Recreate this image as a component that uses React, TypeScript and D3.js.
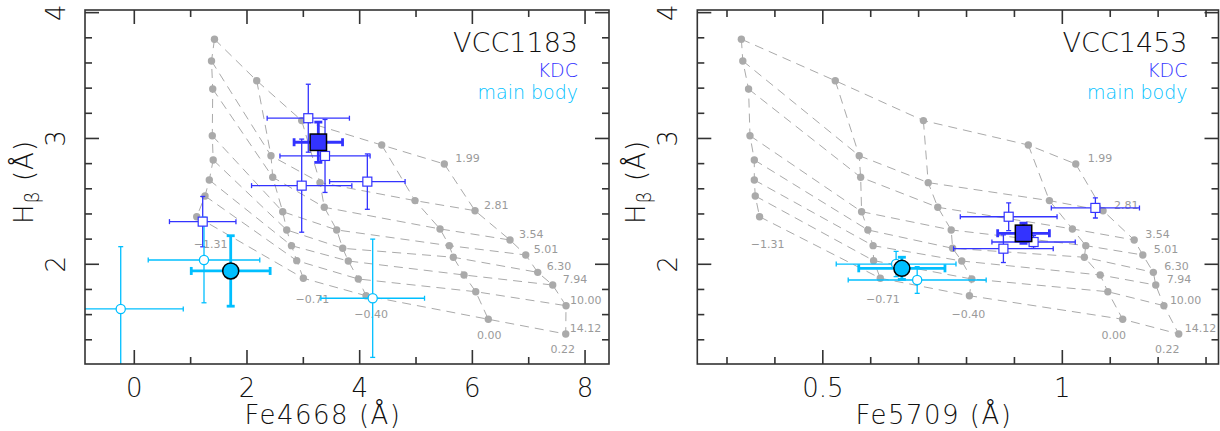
import React from "react";
import * as d3 from "d3";

// ---------- model grid ----------
const metallicityLabels = ["−1.31", "−0.71", "−0.40", "0.00", "0.22"];
const ageLabels = ["1.99", "2.81", "3.54", "5.01", "6.30", "7.94", "10.00", "14.12"];

// Hβ of the model grid: one row per metallicity, one value per age
const hbetaGrid = [
  [3.789, 3.616, 3.393, 3.022, 2.829, 2.67, 2.543, 2.378],
  [3.459, 2.863, 2.692, 2.418, 2.273, 2.148, 2.029, 1.889],
  [3.142, 2.649, 2.453, 2.273, 2.127, 2.026, 1.883, 1.75],
  [2.948, 2.506, 2.281, 2.148, 2.056, 1.915, 1.782, 1.563],
  [2.797, 2.426, 2.193, 2.074, 1.936, 1.835, 1.671, 1.446],
];
const fe4668Grid = [
  [1.423, 1.37, 1.392, 1.384, 1.4, 1.331, 1.255, 1.108],
  [2.173, 2.426, 2.457, 2.634, 2.705, 2.79, 2.883, 3.0],
  [2.971, 3.296, 3.372, 3.592, 3.699, 3.798, 3.976, 4.113],
  [4.391, 4.982, 5.426, 5.591, 5.662, 5.852, 6.06, 6.283],
  [5.502, 6.047, 6.668, 6.947, 7.16, 7.426, 7.662, 7.657],
];
const fe5709Grid = [
  [0.33, 0.333, 0.345, 0.348, 0.357, 0.357, 0.359, 0.368],
  [0.526, 0.576, 0.579, 0.581, 0.594, 0.605, 0.606, 0.62],
  [0.71, 0.72, 0.74, 0.768, 0.771, 0.79, 0.811, 0.806],
  [0.929, 0.973, 1.021, 1.049, 1.046, 1.079, 1.095, 1.126],
  [1.028, 1.085, 1.15, 1.168, 1.19, 1.195, 1.212, 1.243],
];

// ---------- observations ----------
// VCC1183
const v1183KdcX = [3.088, 3.385, 2.971, 4.136, 1.214];
const v1183KdcXe = [0.73, 0.8, 0.89, 0.67, 0.59];
const v1183KdcY = [3.161, 2.861, 2.625, 2.657, 2.339];
const v1183KdcYe = [0.27, 0.29, 0.37, 0.22, 0.2];
const v1183KdcMean = [3.266, 0.43, 2.97, 0.16]; // x, xe, y, ye
const v1183MainX = [1.237, -0.241, 4.231];
const v1183MainXe = [0.99, 1.11, 0.92];
const v1183MainY = [2.034, 1.645, 1.73];
const v1183MainYe = [0.34, 0.495, 0.47];
const v1183MainMean = [1.711, 0.7, 1.947, 0.28];

// VCC1453
const v1453KdcX = [0.888, 1.069, 0.877, 0.94];
const v1453KdcXe = [0.101, 0.092, 0.104, 0.087];
const v1453KdcY = [2.378, 2.448, 2.124, 2.177];
const v1453KdcYe = [0.11, 0.08, 0.11, 0.05];
const v1453KdcMean = [0.919, 0.054, 2.246, 0.08];
const v1453MainX = [0.653, 0.697];
const v1453MainXe = [0.125, 0.144];
const v1453MainY = [2.002, 1.875];
const v1453MainYe = [0.1, 0.106];
const v1453MainMean = [0.665, 0.09, 1.968, 0.088];

const yTitle = "Å";
const KDC = "#3333ff";
const MAIN = "#00bfff";
const GRID = "#aaaaaa";
const FONT = "'DejaVu Sans', sans-serif";

const panels = [
  {
    id: "p1",
    name: "VCC1183",
    xTitle: "Fe4668 (Å)",
    xGrid: fe4668Grid,
    xDomain: [-0.875, 8.425],
    xStep: 1,
    xMajor: [0, 2, 4, 6, 8],
    left: 85,
    right: 609,
    ageDx: [11, 9, 9, 8, 9, 10, 4, 4],
    metDx: [14, 9, 5, 1, -3],
    kdc: { x: v1183KdcX, xe: v1183KdcXe, y: v1183KdcY, ye: v1183KdcYe, mean: v1183KdcMean },
    main: { x: v1183MainX, xe: v1183MainXe, y: v1183MainY, ye: v1183MainYe, mean: v1183MainMean },
  },
  {
    id: "p2",
    name: "VCC1453",
    xTitle: "Fe5709 (Å)",
    xGrid: fe5709Grid,
    xDomain: [0.238, 1.326],
    xStep: 0.1,
    xMajor: [0.5, 1],
    left: 697.3,
    right: 1218.5,
    ageDx: [12, 11, 11, 11, 11, 11, 6, 6],
    metDx: [8, 2.5, -1, -9, -11.5],
    kdc: { x: v1453KdcX, xe: v1453KdcXe, y: v1453KdcY, ye: v1453KdcYe, mean: v1453KdcMean },
    main: { x: v1453MainX, xe: v1453MainXe, y: v1453MainY, ye: v1453MainYe, mean: v1453MainMean },
  },
];

const TOP = 10;
const BOTTOM = 364;
const yDomain = [1.2075, 4.021];
const yStep = 0.2;
const yMajor = [2, 3, 4];
const metDy = [27, 21, 18, 16, 15];

function tickValues(domain: number[], step: number) {
  const i0 = Math.ceil(domain[0] / step - 1e-9);
  const i1 = Math.floor(domain[1] / step + 1e-9);
  return d3.range(i0, i1 + 1).map((i) => +(i * step).toFixed(6));
}
const isMajor = (v: number, list: number[]) => list.some((m) => Math.abs(m - v) < 1e-6);

function ErrBar({ x, y, ex, ey, xs, ys, color, w, cap }: any) {
  const cx = xs(x), cy = ys(y);
  const x0 = xs(x - ex), x1 = xs(x + ex), y0 = ys(y - ey), y1 = ys(y + ey);
  return (
    <g stroke={color} strokeWidth={w} fill="none">
      <line x1={x0} x2={x1} y1={cy} y2={cy} />
      <line x1={cx} x2={cx} y1={y0} y2={y1} />
      <line x1={x0} x2={x0} y1={cy - cap} y2={cy + cap} />
      <line x1={x1} x2={x1} y1={cy - cap} y2={cy + cap} />
      <line x1={cx - cap} x2={cx + cap} y1={y0} y2={y0} />
      <line x1={cx - cap} x2={cx + cap} y1={y1} y2={y1} />
    </g>
  );
}

function Panel({ p }: any) {
  const xs = d3.scaleLinear().domain(p.xDomain).range([p.left, p.right]);
  const ys = d3.scaleLinear().domain(yDomain).range([BOTTOM, TOP]);
  const line = d3.line<[number, number]>().x((d) => xs(d[0])).y((d) => ys(d[1]));

  const xt = tickValues(p.xDomain, p.xStep);
  const yt = tickValues(yDomain, yStep);
  const nAge = ageLabels.length;
  const nMet = metallicityLabels.length;

  const metLines = d3.range(nMet).map((m) =>
    d3.range(nAge).map((a) => [p.xGrid[m][a], hbetaGrid[m][a]] as [number, number])
  );
  const ageLines = d3.range(nAge).map((a) =>
    d3.range(nMet).map((m) => [p.xGrid[m][a], hbetaGrid[m][a]] as [number, number])
  );

  const midX = (p.left + p.right) / 2;
  const midY = (TOP + BOTTOM) / 2;
  const frameColor = "#333";

  return (
    <g>
      <defs>
        <clipPath id={"clip-" + p.id}>
          <rect x={p.left} y={TOP} width={p.right - p.left} height={BOTTOM - TOP} />
        </clipPath>
      </defs>

      {/* model grid */}
      <g fill="none" stroke={GRID} strokeWidth={1} strokeDasharray="9,6">
        {metLines.map((l, i) => (
          <path key={"m" + i} d={line(l) || ""} />
        ))}
        {ageLines.map((l, i) => (
          <path key={"a" + i} d={line(l) || ""} />
        ))}
      </g>
      <g fill={GRID}>
        {metLines.flat().map((d, i) => (
          <circle key={i} cx={xs(d[0])} cy={ys(d[1])} r={3.7} />
        ))}
      </g>
      <g fill="#9a9a9a" fontFamily={FONT} fontSize={11}>
        {ageLabels.map((lab, a) => (
          <text key={lab} x={xs(p.xGrid[nMet - 1][a]) + p.ageDx[a]} y={ys(hbetaGrid[nMet - 1][a]) - 2}>
            {lab}
          </text>
        ))}
        {metallicityLabels.map((lab, m) => (
          <text
            key={lab}
            x={xs(p.xGrid[m][nAge - 1]) + p.metDx[m]}
            y={ys(hbetaGrid[m][nAge - 1]) + metDy[m] + 4}
            textAnchor="middle"
          >
            {lab}
          </text>
        ))}
      </g>

      {/* observations */}
      <g clipPath={`url(#clip-${p.id})`}>
        {p.kdc.x.map((x: number, i: number) => (
          <ErrBar key={"ke" + i} x={x} y={p.kdc.y[i]} ex={p.kdc.xe[i]} ey={p.kdc.ye[i]} xs={xs} ys={ys} color={KDC} w={1.3} cap={2.5} />
        ))}
        {p.main.x.map((x: number, i: number) => (
          <ErrBar key={"me" + i} x={x} y={p.main.y[i]} ex={p.main.xe[i]} ey={p.main.ye[i]} xs={xs} ys={ys} color={MAIN} w={1.3} cap={2.5} />
        ))}
        {p.kdc.x.map((x: number, i: number) => (
          <rect key={"ks" + i} x={xs(x) - 4.5} y={ys(p.kdc.y[i]) - 4.5} width={9} height={9} fill="#fff" stroke={KDC} strokeWidth={1.2} />
        ))}
        {p.main.x.map((x: number, i: number) => (
          <circle key={"mc" + i} cx={xs(x)} cy={ys(p.main.y[i])} r={4.6} fill="#fff" stroke={MAIN} strokeWidth={1.3} />
        ))}
        <ErrBar x={p.kdc.mean[0]} ex={p.kdc.mean[1]} y={p.kdc.mean[2]} ey={p.kdc.mean[3]} xs={xs} ys={ys} color={KDC} w={2.8} cap={4} />
        <ErrBar x={p.main.mean[0]} ex={p.main.mean[1]} y={p.main.mean[2]} ey={p.main.mean[3]} xs={xs} ys={ys} color={MAIN} w={2.8} cap={4} />
        <rect x={xs(p.kdc.mean[0]) - 8.2} y={ys(p.kdc.mean[2]) - 8.2} width={16.4} height={16.4} fill={KDC} stroke="#000" strokeWidth={1.5} />
        <circle cx={xs(p.main.mean[0])} cy={ys(p.main.mean[2])} r={8} fill={MAIN} stroke="#000" strokeWidth={1.5} />
      </g>

      {/* frame and ticks */}
      <g stroke={frameColor} strokeWidth={1.6}>
        <rect x={p.left} y={TOP} width={p.right - p.left} height={BOTTOM - TOP} fill="none" />
        {xt.map((v) => {
          const L = isMajor(v, p.xMajor) ? 14 : 7;
          return (
            <g key={"xt" + v}>
              <line x1={xs(v)} x2={xs(v)} y1={BOTTOM} y2={BOTTOM - L} />
              <line x1={xs(v)} x2={xs(v)} y1={TOP} y2={TOP + L} />
            </g>
          );
        })}
        {yt.map((v) => {
          const L = isMajor(v, yMajor) ? 14 : 7;
          return (
            <g key={"yt" + v}>
              <line x1={p.left} x2={p.left + L} y1={ys(v)} y2={ys(v)} />
              <line x1={p.right} x2={p.right - L} y1={ys(v)} y2={ys(v)} />
            </g>
          );
        })}
      </g>

      <g fontFamily={FONT} fontWeight={200} fill="#111" fontSize={26}>
        {p.xMajor.map((v: number) => (
          <text key={"xl" + v} x={xs(v)} y={397} textAnchor="middle">
            {String(v)}
          </text>
        ))}
        {yMajor.map((v) => (
          <text key={"yl" + v} transform={`translate(${p.left - 20},${ys(v)}) rotate(-90)`} textAnchor="middle">
            {String(v)}
          </text>
        ))}
        <text x={midX - 24} y={424} textAnchor="middle" letterSpacing={1.5}>
          {p.xTitle}
        </text>
        <text transform={`translate(${p.left - 52},${midY - 5}) rotate(-90)`} textAnchor="middle" letterSpacing={1}>
          H
          <tspan fontSize={19} dy={6}>β</tspan>
          <tspan dy={-6}>{" (" + yTitle + ")"}</tspan>
        </text>
      </g>

      <g fontFamily={FONT} fontWeight={200} textAnchor="end">
        <text x={p.right - 31} y={52} fontSize={27} fill="#111">
          {p.name}
        </text>
        <text x={p.right - 31} y={77} fontSize={19} fill={KDC}>
          KDC
        </text>
        <text x={p.right - 31} y={99} fontSize={19} fill={MAIN}>
          main body
        </text>
      </g>
    </g>
  );
}

export default function App() {
  return (
    <svg
      width={1220}
      height={431}
      style={{ position: "absolute", left: 0, top: 0, display: "block", background: "#fff" }}
    >
      {panels.map((p) => (
        <Panel key={p.id} p={p} />
      ))}
    </svg>
  );
}
